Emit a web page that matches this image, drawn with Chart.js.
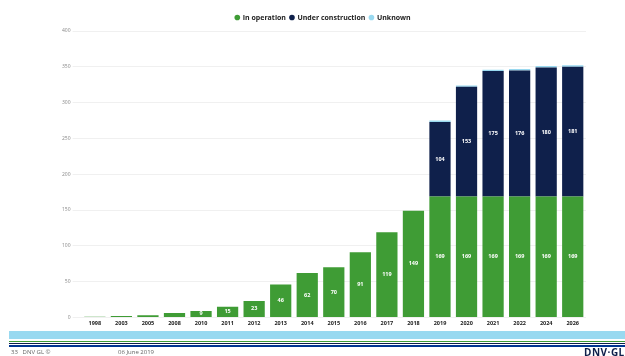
<!DOCTYPE html>
<html>
<head>
<meta charset="utf-8">
<script src="https://cdn.jsdelivr.net/npm/chart.js@4.4.0/dist/chart.umd.min.js"></script>
<style>
  body { margin: 0; background: #fff; font-family: "Open Sans", sans-serif; }
  #wrap { position: absolute; left: 0; top: 0; width: 625px; height: 356px; }
  .band { position: absolute; left: 9px; right: 0; }
  .foot { position: absolute; top: 348px; font-size: 6px; color: #666; }
  .logo { position: absolute; left: 584px; top: 345px; font-size: 10px; font-weight: bold; color: #0f204b; letter-spacing: 0.5px; }
</style>
</head>
<body>
<div id="wrap"><canvas id="chart"></canvas></div>
<div class="band" style="top:331px;height:8px;background:#99d9f0"></div>
<div class="band" style="top:341px;height:1px;background:#3f9c35"></div>
<div class="band" style="top:343px;height:1px;background:#0f204b"></div>
<div class="band" style="top:345px;height:2px;background:#003591"></div>
<div class="foot" style="left:11px">33&nbsp;&nbsp;&nbsp;DNV GL ©</div>
<div class="foot" style="left:118px">06 June 2019</div>
<div class="logo">DNV·GL</div>
<script>
// categories (commissioning year)
const years = ['1998', '2003', '2005', '2008', '2010', '2011', '2012', '2013', '2014', '2015',
               '2016', '2017', '2018', '2019', '2020', '2021', '2022', '2024', '2026'];

// number of stations per status (null = no segment)
const inOperation       = [1, 2, 3, 6, 9, 15, 23, 46, 62, 70, 91, 119, 149, 169, 169, 169, 169, 169, 169];
const underConstruction = [null, null, null, null, null, null, null, null, null, null, null, null, null,
                           104, 153, 175, 176, 180, 181];
const unknown           = [null, null, null, null, null, null, null, null, null, null, null, null, null,
                           2, 2, 2, 2, 2, 2];

const yTicks = [0, 50, 100, 150, 200, 250, 300, 350, 400];

// white value labels in the middle of each segment (no datalabels plugin offline)
const barLabels = {
    id: 'barLabels',
    afterDatasetsDraw(chart) {
        const ctx = chart.ctx;
        ctx.save();
        ctx.fillStyle = '#fff';
        ctx.font = 'bold 5.5px "Open Sans"';
        ctx.textAlign = 'center';
        ctx.textBaseline = 'middle';
        chart.data.datasets.forEach((ds, i) => {
            if (ds.noLabels) return;
            chart.getDatasetMeta(i).data.forEach((bar, j) => {
                const v = ds.data[j];
                if (v == null || v < 9) return;
                ctx.fillText(v, bar.x, (bar.y + bar.base) / 2);
            });
        });
        ctx.restore();
    }
};

new Chart(document.getElementById('chart').getContext('2d'), {
    type: 'bar',
    data: {
        labels: years,
        datasets: [{
            label: 'In operation',
            data: inOperation,
            backgroundColor: '#3f9c35',
        },
        {
            label: 'Under construction',
            data: underConstruction,
            backgroundColor: '#0f204b',
        },
        {
            label: 'Unknown',
            data: unknown,
            backgroundColor: '#99d9f0',
            noLabels: true,
        }],
    },
    options: {
        responsive: true,
        maintainAspectRatio: false,
        animation: false,
        skipNull: true,
        categoryPercentage: 0.8,
        barPercentage: 1,
        layout: { padding: { left: 60, right: 39, top: 10, bottom: 26 } },
        plugins: {
            legend: {
                position: 'top',
                align: 'center',
                labels: {
                    usePointStyle: true,
                    pointStyle: 'circle',
                    boxWidth: 4,
                    boxHeight: 4,
                    padding: 4,
                    color: '#222',
                    font: { family: '"Open Sans"', size: 7, weight: 'bold' }
                }
            },
            tooltip: { enabled: false }
        },
        scales: {
            x: {
                stacked: true,
                grid: { display: false, drawTicks: false, tickLength: 0 },
                border: { display: false },
                ticks: {
                    padding: 3,
                    color: '#222',
                    maxRotation: 0,
                    autoSkip: false,
                    font: { family: '"Open Sans"', size: 5.5, weight: 'bold' }
                }
            },
            y: {
                stacked: true,
                min: 0,
                max: 400,
                afterBuildTicks: axis => { axis.ticks = yTicks.map(v => ({ value: v })); },
                grid: { color: '#f0f0f0', tickLength: 9, lineWidth: 1 },
                border: { display: false },
                ticks: {
                    padding: 2,
                    color: '#888',
                    font: { family: '"Open Sans"', size: 5 }
                }
            }
        }
    },
    plugins: [barLabels]
});
</script>
</body>
</html>
